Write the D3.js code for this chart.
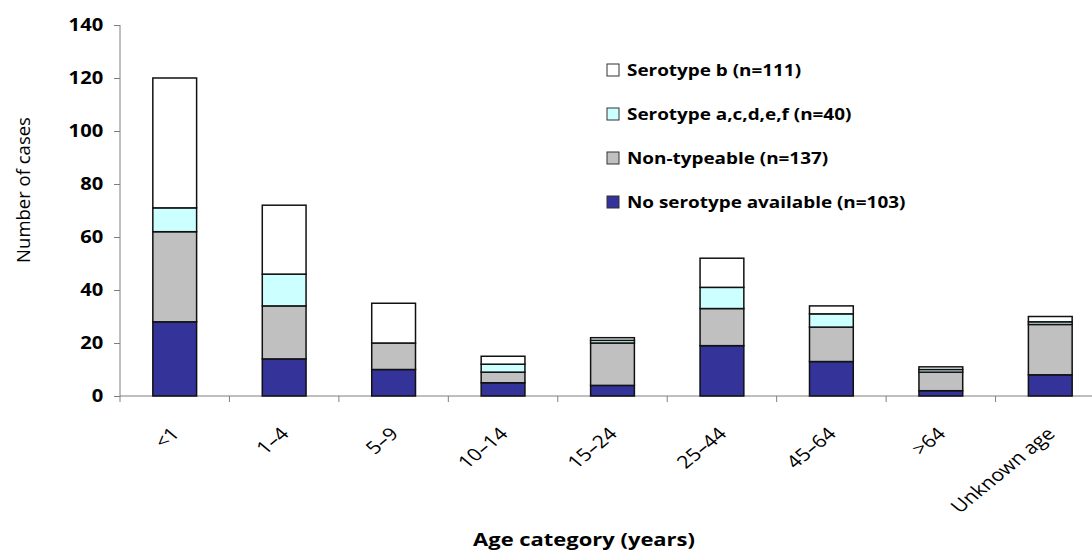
<!DOCTYPE html>
<html lang="en">
  <head>
    <meta charset="utf-8">
    <title>Cases by age category and serotype</title>
    <script src="https://cdn.jsdelivr.net/npm/d3@7"></script>
    <style>
      body { margin: 0; background: white; }
      text { font-family: "Open Sans", "Liberation Sans", sans-serif; fill: black; }
      .tick text { font-weight: bold; font-size: 18px; }
      .xlab { font-size: 17.5px; }
      .legend text { font-weight: bold; font-size: 15.5px; }
    </style>
  </head>
  <body>
    <script>

        var w = 1092;
        var h = 551;

        var categories = ["<1", "1\u20134", "5\u20139", "10\u201314", "15\u201324", "25\u201344", "45\u201364", ">64", "Unknown age"];

        // values, bottom to top
        var noSerotype = [28, 14, 10, 5, 4, 19, 13, 2, 8];
        var nonTypeable = [34, 20, 10, 4, 16, 14, 13, 7, 19];
        var serotypeACDEF = [9, 12, 0, 3, 1, 8, 5, 1, 1];
        var serotypeB = [49, 26, 15, 3, 1, 11, 3, 1, 2];

        var keys = ["none", "nt", "acdef", "b"];
        var seriesLabels = {
          b: "Serotype b (n=111)",
          acdef: "Serotype a,c,d,e,f (n=40)",
          nt: "Non-typeable (n=137)",
          none: "No serotype available (n=103)"
        };
        var colors = { none: "#333399", nt: "#c0c0c0", acdef: "#ccffff", b: "#ffffff" };
        var yTicks = [0, 20, 40, 60, 80, 100, 120, 140];

        var rows = categories.map(function(c, i) {
          return { cat: c, none: noSerotype[i], nt: nonTypeable[i], acdef: serotypeACDEF[i], b: serotypeB[i] };
        });

        var series = d3.stack().keys(keys)(rows);

        // plot area (the source image is a little stretched sideways, so text gets sx)
        var plotLeft = 120, plotRight = 1105, plotTop = 25, plotBottom = 396;
        var sx = 1.22;

        var xScale = d3.scaleBand()
                       .domain(categories)
                       .range([plotLeft, plotRight])
                       .paddingInner(0.6)
                       .paddingOuter(0.3);

        var yScale = d3.scaleLinear()
                       .domain([0, 140])
                       .range([plotBottom, plotTop]);

        var svg = d3.select("body")
                    .append("svg")
                    .attr("width", w)
                    .attr("height", h);

        // y axis
        var yAxis = svg.append("g")
           .attr("transform", "translate(" + plotLeft + ",0)")
           .call(d3.axisLeft(yScale).tickValues(yTicks).tickSize(6).tickPadding(9));
        yAxis.selectAll("line, path").attr("stroke", "#7f7f7f");
        yAxis.select(".domain").attr("d", "M0," + plotTop + "V" + (plotBottom + 6));
        yAxis.selectAll(".tick text").attr("transform", "scale(1.12,1)");

        // x axis with ticks between categories
        var step = xScale.step();
        var xAxis = svg.append("g")
           .attr("transform", "translate(0," + plotBottom + ")");
        xAxis.append("line")
             .attr("x1", plotLeft).attr("x2", w)
             .attr("stroke", "#7f7f7f");
        xAxis.selectAll(".sep")
             .data(categories)
             .enter()
             .append("line")
             .attr("x1", function(d) { return xScale(d) + xScale.bandwidth() / 2 + step / 2; })
             .attr("x2", function(d) { return xScale(d) + xScale.bandwidth() / 2 + step / 2; })
             .attr("y1", 0).attr("y2", 6)
             .attr("stroke", "#7f7f7f");
        xAxis.selectAll(".xlab")
             .data(categories)
             .enter()
             .append("text")
             .attr("class", "xlab")
             .attr("text-anchor", "end")
             .attr("transform", function(d) {
               return "translate(" + (xScale(d) + xScale.bandwidth() / 2 + 6) + ",39) scale(" + sx + ",1) rotate(-45)";
             })
             .text(function(d) { return d; });

        // bars
        svg.append("g")
           .selectAll("g")
           .data(series)
           .enter()
           .append("g")
           .style("fill", function(d) { return colors[d.key]; })
           .selectAll("rect")
           .data(function(d) { return d; })
           .enter()
           .append("rect")
           .attr("x", function(d) { return xScale(d.data.cat); })
           .attr("y", function(d) { return yScale(d[1]); })
           .attr("height", function(d) { return yScale(d[0]) - yScale(d[1]); })
           .attr("width", xScale.bandwidth())
           .attr("stroke", "#111")
           .attr("stroke-width", 1.5);

        // axis titles
        svg.append("text")
           .attr("transform", "translate(584,546) scale(" + sx + ",1)")
           .attr("text-anchor", "middle")
           .style("font-weight", "bold")
           .style("font-size", "18px")
           .text("Age category (years)");

        svg.append("text")
           .attr("transform", "translate(30,190) rotate(-90)")
           .attr("text-anchor", "middle")
           .style("font-size", "18.5px")
           .text("Number of cases");

        // legend
        var legendKeys = ["b", "acdef", "nt", "none"];
        var legend = svg.append("g")
           .attr("class", "legend")
           .selectAll("g")
           .data(legendKeys)
           .enter()
           .append("g")
           .attr("transform", function(d, i) { return "translate(607," + (70 + i * 44) + ")"; });
        legend.append("rect")
              .attr("x", 0).attr("y", -6)
              .attr("width", 12).attr("height", 12)
              .attr("fill", function(d) { return colors[d]; })
              .attr("stroke", "#333");
        legend.append("text")
              .attr("transform", "translate(20,6) scale(" + sx + ",1)")
              .text(function(d) { return seriesLabels[d]; });

    </script>
  </body>
</html>
